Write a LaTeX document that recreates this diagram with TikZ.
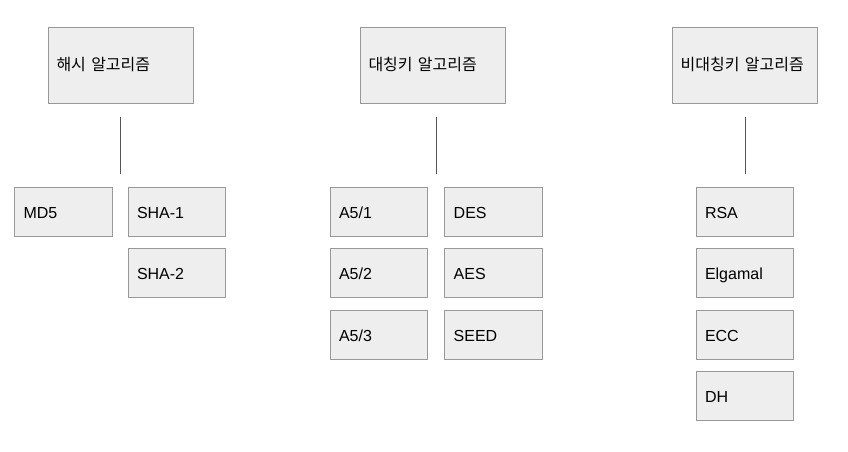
\documentclass[tikz,border=0pt]{standalone}
\usepackage{fontspec}
\setmainfont{Liberation Sans}
\newfontfamily\kr{Noto Sans CJK KR}
\usetikzlibrary{calc}

\definecolor{boxfill}{HTML}{EEEEEE}
\definecolor{boxline}{HTML}{999999}
\definecolor{linkline}{HTML}{555555}

\tikzset{
	group/.style = {draw=boxline, fill=boxfill, line width=1pt,
		text width=128pt, inner xsep=8.5pt, minimum height=76pt,
		align=left, font=\kr\fontsize{16}{18}\selectfont},
	algo/.style = {draw=boxline, fill=boxfill, line width=1pt,
		text width=80pt, inner xsep=8.75pt, minimum height=49pt,
		text height=13.6pt, text depth=0pt, align=left,
		font=\fontsize{16}{18}\selectfont},
	link/.style = {draw=linkline, line width=0.9pt, shorten <=13pt, shorten >=13pt}
}

\begin{document}
\begin{tikzpicture}[x=1pt, y=-1pt]
	\useasboundingbox (0,0) rectangle (848,451);
	% group headers
		\node[group] (hash) at (120.5,65) {해시 알고리즘};
		\node[group] (sym)  at (432.5,65) {대칭키 알고리즘};
		\node[group] (asym) at (744.7,65) {비대칭키 알고리즘};
	% hash
		\node[algo] (md5)  at (63.5,211.5) {MD5};
		\node[algo] (sha1) at (177,211.5) {SHA-1};
		\node[algo] (sha2) at (177,273) {SHA-2};
	% symmetric key
		\node[algo] (a51)  at (379,211.5) {A5/1};
		\node[algo] (a52)  at (379,273) {A5/2};
		\node[algo] (a53)  at (379,334.5) {A5/3};
		\node[algo] (des)  at (493.7,211.5) {DES};
		\node[algo] (aes)  at (493.7,273) {AES};
		\node[algo] (seed) at (493.7,334.5) {SEED};
	% asymmetric key
		\node[algo] (rsa)     at (745,211.5) {RSA};
		\node[algo] (elgamal) at (745,273) {Elgamal};
		\node[algo] (ecc)     at (745,334.5) {ECC};
		\node[algo] (dh)      at (745,396) {DH};
	% links
		\coordinate (hashtop) at ($(md5.north)!.5!(sha1.north)$);
		\coordinate (symtop)  at ($(a51.north)!.5!(des.north)$);
		\draw[link] (hash.south -| hashtop) -- (hashtop);
		\draw[link] (sym.south -| symtop) -- (symtop);
		\draw[link] (asym.south -| rsa.north) -- (rsa.north);
\end{tikzpicture}
\end{document}
